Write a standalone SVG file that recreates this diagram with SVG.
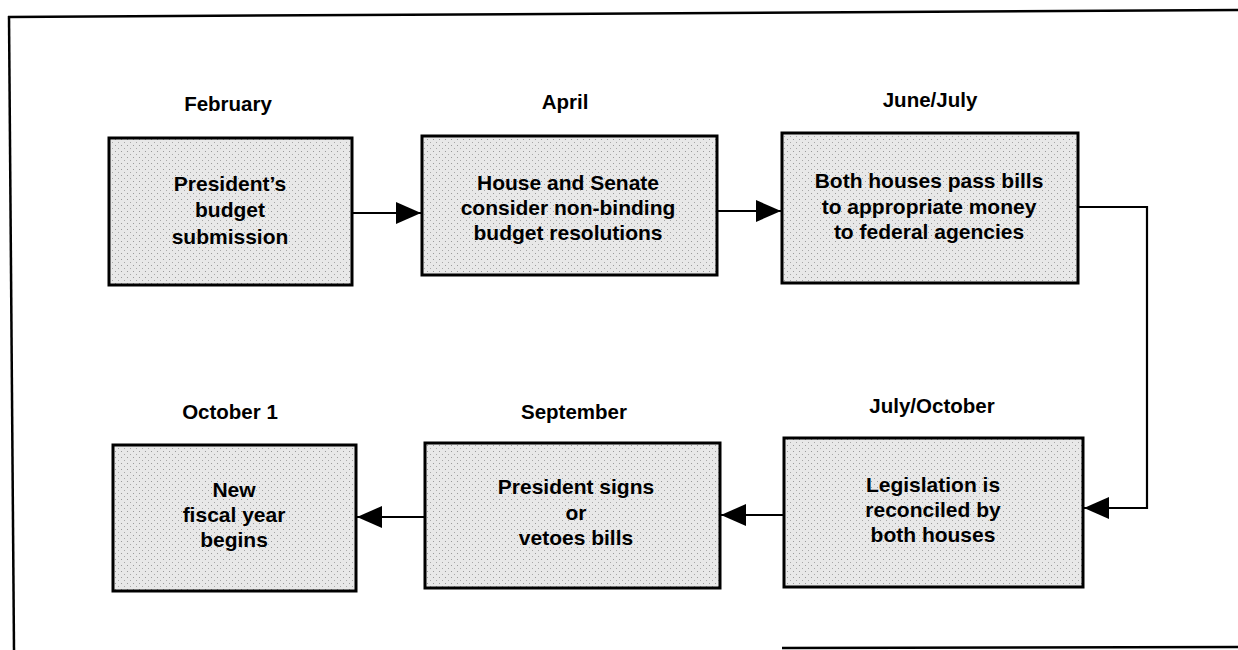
<svg xmlns="http://www.w3.org/2000/svg" width="1238" height="650" viewBox="0 0 1238 650">
  <defs>
    <marker id="ah" markerUnits="userSpaceOnUse" markerWidth="26" markerHeight="22" refX="25" refY="11" orient="auto">
      <path d="M0,0 L25,11 L0,22 Z" fill="#000"/>
    </marker>
    <pattern id="stip" width="6" height="6" patternUnits="userSpaceOnUse">
      <rect width="6" height="6" fill="#e8e8e8"/>
      <rect x="1" y="1" width="1" height="1" fill="#9a9a9a"/>
      <rect x="4" y="4" width="1" height="1" fill="#a8a8a8"/>
    </pattern>
    <style>
      .box { fill: url(#stip); stroke: #000; stroke-width: 3; }
      .t { font-family: "Liberation Sans", Arial, Helvetica, sans-serif; font-weight: bold; font-size: 21px; fill: #000; text-anchor: middle; }
      .lbl { font-family: "Liberation Sans", Arial, Helvetica, sans-serif; font-weight: bold; font-size: 20.5px; fill: #000; text-anchor: middle; }
      .c { fill: none; stroke: #000; stroke-width: 2.2; marker-end: url(#ah); }
      .frame { fill: none; stroke: #000; stroke-width: 2.5; }
    </style>
  </defs>
  <rect width="1238" height="650" fill="#fff"/>
  <g id="frame">
    <line class="frame" x1="8" y1="17" x2="1238" y2="10"/>
    <line class="frame" x1="9" y1="16" x2="14" y2="650"/>
    <line class="frame" x1="782" y1="648" x2="1238" y2="647"/>
  </g>

  <g id="connectors">
    <line class="c" x1="353" y1="213" x2="421" y2="213"/>
    <line class="c" x1="718" y1="211" x2="781" y2="211"/>
    <polyline class="c" points="1079,207 1147,207 1147,508 1084,508"/>
    <line class="c" x1="783" y1="515" x2="721" y2="515"/>
    <line class="c" x1="424" y1="517" x2="357" y2="517"/>
  </g>

  <g id="n-february">
    <text class="lbl" x="228" y="111">February</text>
    <rect class="box" x="109" y="138" width="243" height="147"/>
    <text class="t" x="230" y="191">President’s</text>
    <text class="t" x="230" y="217">budget</text>
    <text class="t" x="230" y="244">submission</text>
  </g>

  <g id="n-april">
    <text class="lbl" x="565" y="109">April</text>
    <rect class="box" x="422" y="136" width="295" height="139"/>
    <text class="t" x="568" y="190">House and Senate</text>
    <text class="t" x="568" y="215">consider non-binding</text>
    <text class="t" x="568" y="240">budget resolutions</text>
  </g>

  <g id="n-junejuly">
    <text class="lbl" x="930" y="107">June/July</text>
    <rect class="box" x="782" y="133" width="296" height="150"/>
    <text class="t" x="929" y="188">Both houses pass bills</text>
    <text class="t" x="929" y="214">to appropriate money</text>
    <text class="t" x="929" y="239">to federal agencies</text>
  </g>

  <g id="n-julyoctober">
    <text class="lbl" x="932" y="413">July/October</text>
    <rect class="box" x="784" y="438" width="299" height="149"/>
    <text class="t" x="933" y="492">Legislation is</text>
    <text class="t" x="933" y="517">reconciled by</text>
    <text class="t" x="933" y="542">both houses</text>
  </g>

  <g id="n-september">
    <text class="lbl" x="574" y="419">September</text>
    <rect class="box" x="425" y="443" width="295" height="145"/>
    <text class="t" x="576" y="494">President signs</text>
    <text class="t" x="576" y="520">or</text>
    <text class="t" x="576" y="545">vetoes bills</text>
  </g>

  <g id="n-october1">
    <text class="lbl" x="230" y="419">October 1</text>
    <rect class="box" x="113" y="445" width="243" height="146"/>
    <text class="t" x="234" y="497">New</text>
    <text class="t" x="234" y="522">fiscal year</text>
    <text class="t" x="234" y="547">begins</text>
  </g>
</svg>
